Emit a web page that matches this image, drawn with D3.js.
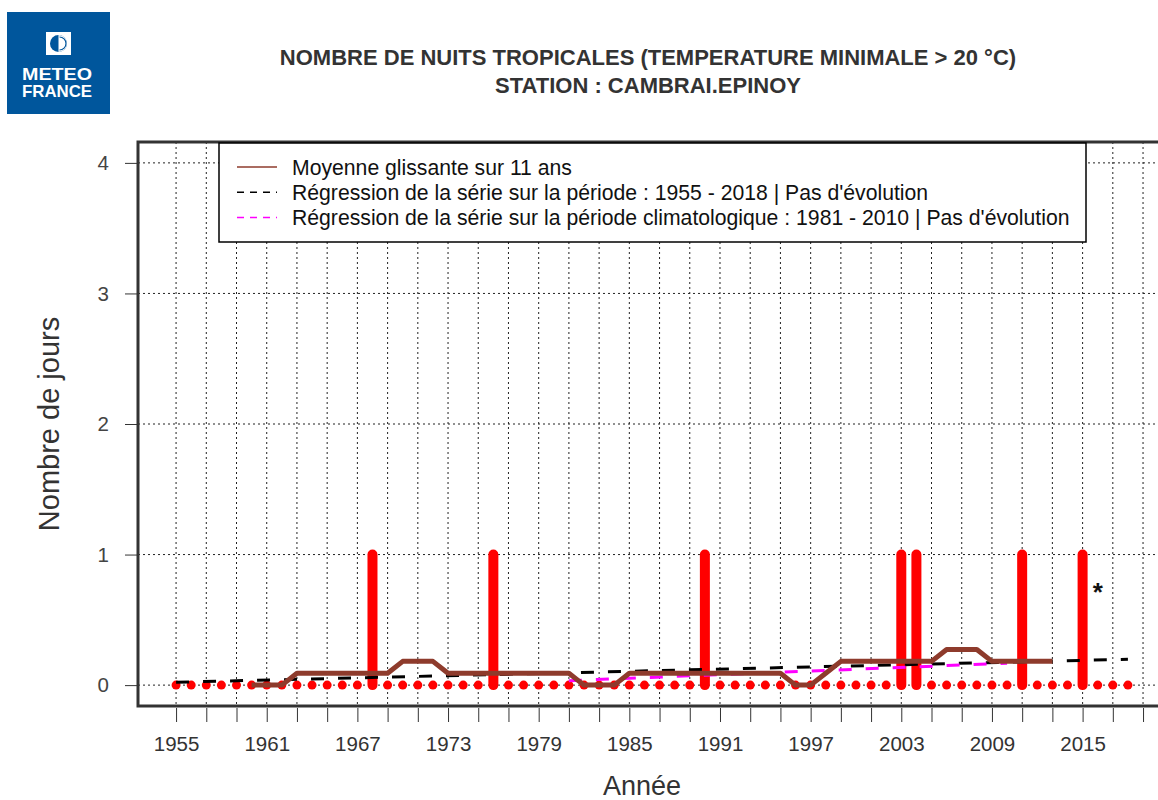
<!DOCTYPE html>
<html>
<head>
<meta charset="utf-8">
<script src="https://cdn.jsdelivr.net/npm/d3@7"></script>
<style>
  body { margin: 0; background: #fff; }
  svg { display: block; font-family: "Liberation Sans", Arial, sans-serif; }
</style>
</head>
<body>
<div id="chart"></div>
<script>
// tropical nights per year, Cambrai-Epinoy
const YEARS = d3.range(1955, 2019);
const HOT_YEARS = [1968, 1976, 1990, 2003, 2004, 2011, 2015];   // years with 1 night
const NIGHTS = YEARS.map(y => HOT_YEARS.includes(y) ? 1 : 0);

// 11-year moving average (1960 - 2013)
const MA_YEARS = d3.range(1960, 2014);
const MA_VALUES = [
  0, 0, 0, 0.091, 0.091, 0.091, 0.091, 0.091, 0.091, 0.091,
  0.182, 0.182, 0.182, 0.091, 0.091, 0.091, 0.091, 0.091, 0.091, 0.091,
  0.091, 0.091, 0, 0, 0, 0.091, 0.091, 0.091, 0.091, 0.091,
  0.091, 0.091, 0.091, 0.091, 0.091, 0.091, 0, 0, 0.091, 0.182,
  0.182, 0.182, 0.182, 0.182, 0.182, 0.182, 0.273, 0.273, 0.273, 0.182,
  0.182, 0.182, 0.182, 0.182
];

// regression lines (start / end)
const REG_ALL = [[1955, 0.022], [2018, 0.198]];
const REG_CLIM = [[1981, 0.034], [2010, 0.168]];

const Y_TICKS = [0, 1, 2, 3, 4];
const X_TICKS = d3.range(1955, 2020, 2);
const X_LABELS = d3.range(1955, 2019, 6);

const LEGEND = [
  { label: "Moyenne glissante sur 11 ans", color: "#8e3b2c", dash: null, w: 1.5 },
  { label: "Régression de la série sur la période : 1955 - 2018 | Pas d'évolution", color: "#000", dash: "7,6", w: 1.5 },
  { label: "Régression de la série sur la période climatologique : 1981 - 2010 | Pas d'évolution", color: "#ff00ff", dash: "7,6", w: 1.5 }
];

const width = 1158, height = 800;
const svg = d3.select("#chart").append("svg")
  .attr("width", width)
  .attr("height", height);

// plot region
const pLeft = 138, pRight = 1166, pTop = 142, pBottom = 706;

const x = d3.scaleLinear().domain([1952.48, 2020.52]).range([pLeft, pRight]);
const y = d3.scaleLinear().domain([-0.16, 4.16]).range([pBottom, pTop]);

// logo
const logo = svg.append("g");
logo.append("rect")
  .attr("x", 7).attr("y", 12).attr("width", 103).attr("height", 102)
  .attr("fill", "#00569c");
logo.append("rect")
  .attr("x", 46).attr("y", 32).attr("width", 25).attr("height", 23)
  .attr("fill", "#fff");
logo.append("circle")
  .attr("cx", 58.5).attr("cy", 43.5).attr("r", 8.5)
  .attr("fill", "#00569c");
logo.append("path")
  .attr("d", "M58.5,35 A8.5,8.5 0 0 1 58.5,52 Z")
  .attr("fill", "#fff");
logo.append("path")
  .attr("d", "M59.5,37 A6.5,6.5 0 0 1 59.5,50")
  .attr("fill", "none")
  .attr("stroke", "#00569c")
  .attr("stroke-width", 1.2);
[["METEO", 80], ["FRANCE", 97]].forEach(t => {
  logo.append("text")
    .attr("x", 22).attr("y", t[1])
    .attr("textLength", 70)
    .attr("lengthAdjust", "spacingAndGlyphs")
    .attr("fill", "#fff")
    .style("font-size", "17px").style("font-weight", "bold")
    .text(t[0]);
});

// title
svg.append("text")
  .attr("x", 648).attr("y", 65)
  .attr("text-anchor", "middle")
  .attr("fill", "#333")
  .style("font-size", "22px").style("font-weight", "bold")
  .text("NOMBRE DE NUITS TROPICALES (TEMPERATURE MINIMALE > 20 °C)");
svg.append("text")
  .attr("x", 648).attr("y", 93)
  .attr("text-anchor", "middle")
  .attr("fill", "#333")
  .style("font-size", "22px").style("font-weight", "bold")
  .text("STATION : CAMBRAI.EPINOY");

// grid
const grid = svg.append("g")
  .attr("stroke", "#222")
  .attr("stroke-width", 1)
  .attr("stroke-dasharray", "2,3");
grid.selectAll("line.v")
  .data(X_TICKS)
  .enter().append("line")
  .attr("class", "v")
  .attr("x1", d => x(d)).attr("x2", d => x(d))
  .attr("y1", pTop).attr("y2", pBottom);
grid.selectAll("line.h")
  .data(Y_TICKS)
  .enter().append("line")
  .attr("class", "h")
  .attr("x1", pLeft).attr("x2", pRight)
  .attr("y1", d => y(d)).attr("y2", d => y(d));

// axes
const xAxis = d3.axisBottom(x)
  .tickValues(X_TICKS)
  .tickSize(14)
  .tickPadding(14)
  .tickFormat(d => X_LABELS.includes(d) ? d : "");
svg.append("g")
  .attr("class", "x axis")
  .attr("transform", "translate(0," + (pBottom + 2) + ")")
  .call(xAxis)
  .call(g => g.select(".domain").remove())
  .call(g => g.selectAll("line").attr("stroke", "#333"))
  .call(g => g.selectAll("text").attr("fill", "#333").style("font-size", "20.5px").style("font-family", "Liberation Sans, Arial, sans-serif"));

const yAxis = d3.axisLeft(y)
  .tickValues(Y_TICKS)
  .tickSize(12)
  .tickPadding(16)
  .tickFormat(d3.format("d"));
svg.append("g")
  .attr("class", "y axis")
  .attr("transform", "translate(" + (pLeft - 1) + ",0)")
  .call(yAxis)
  .call(g => g.select(".domain").remove())
  .call(g => g.selectAll("line").attr("stroke", "#333"))
  .call(g => g.selectAll("text").attr("fill", "#444").style("font-size", "20.5px").style("font-family", "Liberation Sans, Arial, sans-serif"));

// axis titles
svg.append("text")
  .attr("transform", "translate(59," + ((pTop + pBottom) / 2) + ") rotate(-90)")
  .attr("text-anchor", "middle")
  .attr("fill", "#333")
  .style("font-size", "29px")
  .text("Nombre de jours");
svg.append("text")
  .attr("x", 642).attr("y", 795)
  .attr("text-anchor", "middle")
  .attr("fill", "#333")
  .style("font-size", "27px")
  .text("Année");

// zero points
svg.selectAll("circle.pt")
  .data(YEARS.filter((d, i) => NIGHTS[i] === 0))
  .enter().append("circle")
  .attr("class", "pt")
  .attr("cx", d => x(d))
  .attr("cy", y(0))
  .attr("r", 4.5)
  .attr("fill", "#ff0000");

// bars
svg.selectAll("line.bar")
  .data(YEARS.map((d, i) => [d, NIGHTS[i]]).filter(d => d[1] > 0))
  .enter().append("line")
  .attr("class", "bar")
  .attr("x1", d => x(d[0])).attr("x2", d => x(d[0]))
  .attr("y1", y(0)).attr("y2", d => y(d[1]))
  .attr("stroke", "#ff0000")
  .attr("stroke-width", 10)
  .attr("stroke-linecap", "round");

// regressions
const line = d3.line().x(d => x(d[0])).y(d => y(d[1]));
svg.append("path")
  .datum(REG_ALL)
  .attr("d", line)
  .attr("fill", "none")
  .attr("stroke", "#000")
  .attr("stroke-width", 3)
  .attr("stroke-dasharray", "13,14");
svg.append("path")
  .datum(REG_CLIM)
  .attr("d", line)
  .attr("fill", "none")
  .attr("stroke", "#ff00ff")
  .attr("stroke-width", 3)
  .attr("stroke-dasharray", "13,14");

// moving average
svg.append("path")
  .datum(MA_YEARS.map((d, i) => [d, MA_VALUES[i]]))
  .attr("d", line)
  .attr("fill", "none")
  .attr("stroke", "#8e3b2c")
  .attr("stroke-width", 5)
  .attr("stroke-linejoin", "round");

// record marker
svg.append("text")
  .attr("x", x(2016)).attr("y", y(0.73) + 11)
  .attr("text-anchor", "middle")
  .attr("fill", "#111")
  .style("font-size", "26px").style("font-weight", "bold")
  .text("*");

// frame
svg.append("rect")
  .attr("x", pLeft).attr("y", pTop)
  .attr("width", pRight - pLeft).attr("height", pBottom - pTop)
  .attr("fill", "none")
  .attr("stroke", "#333")
  .attr("stroke-width", 3);

// legend
const lg = svg.append("g").attr("transform", "translate(219,143)");
lg.append("rect")
  .attr("width", 867).attr("height", 99)
  .attr("fill", "#fff")
  .attr("stroke", "#000")
  .attr("stroke-width", 1.5);
const rows = lg.selectAll("g.row")
  .data(LEGEND)
  .enter().append("g")
  .attr("class", "row")
  .attr("transform", (d, i) => "translate(0," + (24 + i * 25.3) + ")");
rows.append("line")
  .attr("x1", 18).attr("x2", 58)
  .attr("stroke", d => d.color)
  .attr("stroke-width", d => d.w)
  .attr("stroke-dasharray", d => d.dash);
rows.append("text")
  .attr("x", 73).attr("y", 7.5)
  .attr("fill", "#111")
  .style("font-size", "21.2px")
  .text(d => d.label);
</script>
</body>
</html>
